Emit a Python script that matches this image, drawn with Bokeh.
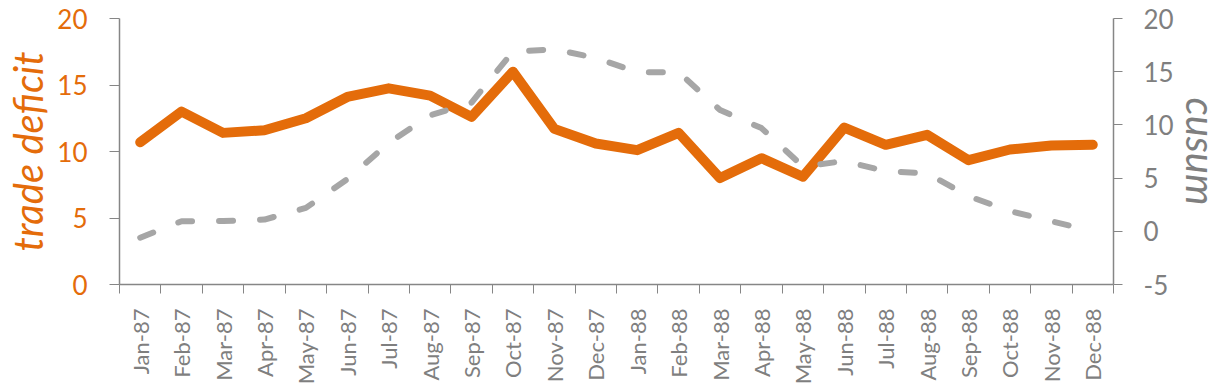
import math
from bokeh.plotting import figure
from bokeh.models import Range1d, LinearAxis, FixedTicker
from bokeh.embed import file_html
from bokeh.resources import INLINE

months = ["Jan-87", "Feb-87", "Mar-87", "Apr-87", "May-87", "Jun-87",
          "Jul-87", "Aug-87", "Sep-87", "Oct-87", "Nov-87", "Dec-87",
          "Jan-88", "Feb-88", "Mar-88", "Apr-88", "May-88", "Jun-88",
          "Jul-88", "Aug-88", "Sep-88", "Oct-88", "Nov-88", "Dec-88"]
trade_deficit = [10.7, 13.0, 11.4, 11.6, 12.5, 14.1, 14.75, 14.2, 12.6, 16.0,
                 11.7, 10.6, 10.1, 11.4, 8.0, 9.5, 8.1, 11.8, 10.5, 11.25,
                 9.35, 10.15, 10.45, 10.5]
cusum = [-0.6, 0.95, 0.97, 1.1, 2.2, 4.9, 8.3, 10.9, 12.1, 16.9, 17.1, 16.3,
         14.95, 14.95, 11.4, 9.7, 6.1, 6.6, 5.65, 5.45, 3.3, 1.9, 0.95, 0.0]
left_ticks = [0, 5, 10, 15, 20]
right_ticks = [-5, 0, 5, 10, 15, 20]
right_tick_labels = ["-5", "0", "5", "10", "15", "20"]

ORANGE = "#E46C0A"
GRAY_LINE = "#A6A6A6"
AXIS = "#868686"
TEXT_GRAY = "#7F7F7F"
FONT = "Lato"

n = len(months)
xs = list(range(n))

p = figure(width=1227, height=387, output_backend="svg", toolbar_location=None,
           x_range=Range1d(-0.5, n - 0.5), y_range=Range1d(0, 20),
           min_border_left=119, min_border_right=114,
           min_border_top=18, min_border_bottom=101)
p.outline_line_color = None
p.xgrid.visible = False
p.ygrid.visible = False
p.background_fill_color = "white"
p.border_fill_color = "white"

p.extra_y_ranges = {"cusum": Range1d(-5, 20)}

p.line(xs, trade_deficit, line_color=ORANGE, line_width=10,
       line_cap="round", line_join="round")
p.line(xs, cusum, y_range_name="cusum", line_color=GRAY_LINE, line_width=6,
       line_dash="14 27", line_cap="round", line_join="round")

xa = p.xaxis[0]
xa.ticker = FixedTicker(ticks=xs, minor_ticks=[i - 0.5 for i in range(n + 1)])
xa.major_label_overrides = {i: m for i, m in enumerate(months)}
xa.major_label_orientation = math.pi / 2
xa.major_tick_out = 0
xa.major_tick_in = 0
xa.minor_tick_out = 9
xa.minor_tick_in = 0
xa.minor_tick_line_color = AXIS
xa.axis_line_color = AXIS
xa.axis_line_width = 1.5
xa.major_label_text_font = FONT
xa.major_label_text_font_size = "22px"
xa.major_label_text_color = TEXT_GRAY
xa.major_label_standoff = 15

ya = p.yaxis[0]
ya.ticker = FixedTicker(ticks=left_ticks)
ya.minor_tick_line_color = None
ya.major_tick_out = 10
ya.major_tick_in = 0
ya.major_tick_line_color = AXIS
ya.axis_line_color = AXIS
ya.axis_line_width = 1.5
ya.major_label_text_font = FONT
ya.major_label_text_font_size = "26px"
ya.major_label_text_color = ORANGE
ya.major_label_standoff = 22
ya.axis_label = "trade deficit"
ya.axis_label_text_font = FONT
ya.axis_label_text_font_style = "italic"
ya.axis_label_text_font_size = "40px"
ya.axis_label_text_color = ORANGE
ya.axis_label_standoff = 2

ra = LinearAxis(y_range_name="cusum", ticker=FixedTicker(ticks=right_ticks))
ra.major_label_overrides = dict(zip(right_ticks, right_tick_labels))
ra.minor_tick_line_color = None
ra.major_tick_out = 9
ra.major_tick_in = 0
ra.major_tick_line_color = AXIS
ra.axis_line_color = AXIS
ra.axis_line_width = 1.5
ra.major_label_text_font = FONT
ra.major_label_text_font_size = "26px"
ra.major_label_text_color = TEXT_GRAY
ra.major_label_standoff = 21
ra.axis_label = "cusum"
ra.axis_label_text_font = FONT
ra.axis_label_text_font_style = "italic"
ra.axis_label_text_font_size = "40px"
ra.axis_label_text_color = TEXT_GRAY
ra.axis_label_standoff = 0
p.add_layout(ra, "right")

open("out.html", "w").write(file_html(p, INLINE))
